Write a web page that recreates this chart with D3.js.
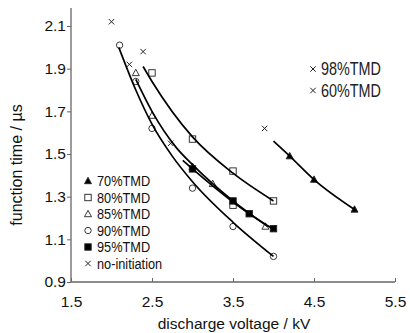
<!DOCTYPE html>
<html>
<head>
<meta charset="utf-8">
<script src="https://cdn.jsdelivr.net/npm/d3@7"></script>
<style>
  body { margin: 0; background: #fff; }
  svg { font-family: 'Liberation Sans', Arial, sans-serif; }
</style>
</head>
<body>
<svg id="graphContainer" width="410" height="333"></svg>
<script>
// ===== data =====
const xTicks = [1.5, 2.5, 3.5, 4.5, 5.5];
const yTicks = [0.9, 1.1, 1.3, 1.5, 1.7, 1.9, 2.1];

// measured points (voltage kV, function time us)
const v70 = [4.2, 4.5, 5.0];
const t70 = [1.49, 1.38, 1.24];
const v80 = [2.5, 3.0, 3.5, 3.5, 4.0];
const t80 = [1.88, 1.57, 1.42, 1.26, 1.28];
const v85 = [2.3, 2.5, 3.0, 3.25, 3.9];
const t85 = [1.88, 1.68, 1.44, 1.36, 1.16];
const v90 = [2.1, 2.3, 2.5, 3.0, 3.5, 4.0];
const t90 = [2.01, 1.84, 1.62, 1.34, 1.16, 1.02];
const v95 = [3.0, 3.5, 3.7, 4.0];
const t95 = [1.43, 1.28, 1.22, 1.15];
const vNo = [2.0, 2.22, 2.39, 2.73, 3.89];
const tNo = [2.12, 1.92, 1.98, 1.55, 1.62];

// fitted curves as drawn in the figure
const fit70v = [4.0, 4.2, 4.5, 5.0];
const fit70t = [1.56, 1.49, 1.38, 1.24];
const fit80v = [2.39, 2.5, 3.0, 3.5, 4.0];
const fit80t = [1.91, 1.84, 1.58, 1.41, 1.28];
const fit85v = [2.3, 2.5, 2.8, 3.0, 3.5, 3.93];
const fit85t = [1.85, 1.70, 1.53, 1.45, 1.28, 1.16];
const fit90v = [2.09, 2.3, 2.5, 2.75, 3.0, 3.5, 4.0];
const fit90t = [2.00, 1.80, 1.64, 1.49, 1.37, 1.18, 1.02];
const fit95v = [2.88, 3.0, 3.5, 3.7, 4.0];
const fit95t = [1.47, 1.43, 1.275, 1.22, 1.147];

const legendNames = ['70%TMD', '80%TMD', '85%TMD', '90%TMD', '95%TMD', 'no-initiation'];
const noteNames = ['98%TMD', '60%TMD'];

const zip = (a, b) => a.map((d, i) => [d, b[i]]);

const series = [
  { pts: zip(v70, t70), fit: zip(fit70v, fit70t), sym: 'triFill' },
  { pts: zip(v80, t80), fit: zip(fit80v, fit80t), sym: 'square' },
  { pts: zip(v85, t85), fit: zip(fit85v, fit85t), sym: 'tri' },
  { pts: zip(v90, t90), fit: zip(fit90v, fit90t), sym: 'circle' },
  { pts: zip(v95, t95), fit: zip(fit95v, fit95t), sym: 'squareFill' },
  { pts: zip(vNo, tNo), fit: null, sym: 'cross' }
];

// select svg container
const svg = d3.select('#graphContainer');

// scale the x axis
const x = d3.scaleLinear().domain([1.5, 5.5]).range([71, 395]);
// scale the y axis
const y = d3.scaleLinear().domain([0.9, 2.1]).range([282, 26]);
const yTop = 8;

const axisCol = '#666';

// axes lines
svg.append('line').attr('x1', 71).attr('x2', 71).attr('y1', yTop).attr('y2', 282)
  .attr('stroke', axisCol).attr('stroke-width', 1.3);
svg.append('line').attr('x1', 71).attr('x2', 395).attr('y1', 282).attr('y2', 282)
  .attr('stroke', axisCol).attr('stroke-width', 1.3);

// y ticks, pointing out
const yAxis = d3.axisLeft(y).tickValues(yTicks).tickSize(4).tickSizeOuter(0).tickFormat(d3.format('.1f'));
const yAxisGroup = svg.append('g').attr('transform', 'translate(71,0)').call(yAxis);
yAxisGroup.select('.domain').remove();
yAxisGroup.selectAll('line').attr('stroke', axisCol);
yAxisGroup.selectAll('text').attr('font-size', 15.5).attr('fill', '#111')
  .attr('font-family', "'Liberation Sans', Arial, sans-serif").attr('x', -5);

// x ticks, pointing in
const xAxis = d3.axisBottom(x).tickValues(xTicks).tickSize(-4).tickSizeOuter(0).tickFormat(d3.format('.1f'));
const xAxisGroup = svg.append('g').attr('transform', 'translate(0,282)').call(xAxis);
xAxisGroup.select('.domain').remove();
xAxisGroup.selectAll('line').attr('stroke', axisCol);
xAxisGroup.selectAll('text').attr('font-size', 15.5).attr('fill', '#111')
  .attr('font-family', "'Liberation Sans', Arial, sans-serif").attr('y', 14);

// axis titles
svg.append('text').attr('x', 234).attr('y', 329).attr('text-anchor', 'middle')
  .attr('font-size', 15.5).attr('fill', '#111').text('discharge voltage / kV');
svg.append('text').attr('transform', 'translate(22,165) rotate(-90)').attr('text-anchor', 'middle')
  .attr('font-size', 16).attr('fill', '#111').text('function time / \u00b5s');

// marker drawing
const drawSym = (g, sym, cx, cy) => {
  const s = 3.2;
  if (sym === 'circle') {
    g.append('circle').attr('cx', cx).attr('cy', cy).attr('r', s)
      .attr('fill', '#fff').attr('stroke', '#222').attr('stroke-width', 0.9);
  } else if (sym === 'square' || sym === 'squareFill') {
    g.append('rect').attr('x', cx - s).attr('y', cy - s).attr('width', 2 * s).attr('height', 2 * s)
      .attr('fill', sym === 'square' ? '#fff' : '#000').attr('stroke', '#222').attr('stroke-width', 0.9);
  } else if (sym === 'tri' || sym === 'triFill') {
    g.append('path').attr('d', `M${cx},${cy - s - 0.5}L${cx + s + 0.3},${cy + s - 0.5}L${cx - s - 0.3},${cy + s - 0.5}Z`)
      .attr('fill', sym === 'tri' ? '#fff' : '#000').attr('stroke', '#222').attr('stroke-width', 0.9);
  } else {
    const c = 2.7;
    g.append('path').attr('d', `M${cx - c},${cy - c}L${cx + c},${cy + c}M${cx - c},${cy + c}L${cx + c},${cy - c}`)
      .attr('stroke', '#222').attr('stroke-width', 1).attr('fill', 'none');
  }
};

const graph = svg.append('g');

// markers first, curves over them
series.forEach(s => {
  const g = graph.append('g');
  s.pts.forEach(p => drawSym(g, s.sym, x(p[0]), y(p[1])));
});

const line = d3.line().x(d => x(d[0])).y(d => y(d[1])).curve(d3.curveMonotoneX);
series.filter(s => s.fit).forEach(s => {
  graph.append('path').datum(s.fit).attr('d', line)
    .attr('fill', 'none').attr('stroke', '#000').attr('stroke-width', 1.7);
});

// legend
const legend = svg.append('g');
legendNames.forEach((name, i) => {
  const cy = 181 + i * 16.5;
  drawSym(legend, series[i].sym, 88, cy);
  legend.append('text').attr('x', 97).attr('y', cy + 5.5).attr('font-size', 14.5)
    .attr('fill', '#111').attr('transform', `translate(${97 * 0.12},0) scale(0.88,1)`)
    .text(name);
});

// notes at top right
noteNames.forEach((name, i) => {
  const cy = 69 + i * 21.5;
  drawSym(svg, 'cross', 313, cy);
  svg.append('text').attr('x', 321).attr('y', cy + 6.5).attr('font-size', 18)
    .attr('fill', '#222').attr('transform', `translate(${321 * 0.2},0) scale(0.8,1)`)
    .text(name);
});
</script>
</body>
</html>
